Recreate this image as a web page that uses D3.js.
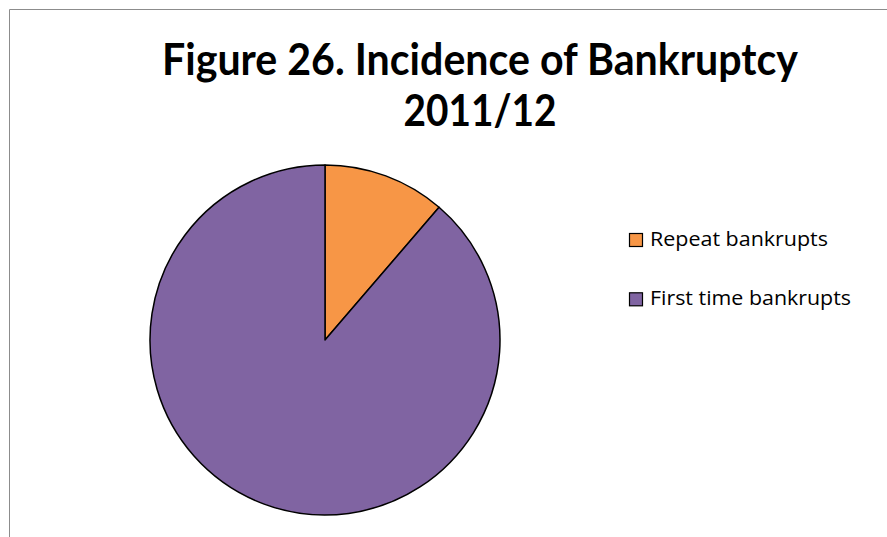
<!DOCTYPE html>
<html>
<head>
<meta charset="utf-8">
<script src="https://cdn.jsdelivr.net/npm/d3@7"></script>
<style>
  html, body { margin: 0; padding: 0; background: #fff; }
  svg { display: block; }
</style>
</head>
<body>
<svg id="chart" width="887" height="537"></svg>
<script>
// Share of bankrupts, 2011/12 (percent)
const categories = ["Repeat bankrupts", "First time bankrupts"];
const shares = [11.3, 88.7];
const colors = ["#F79646", "#8064A2"];
const titleLines = ["Figure 26. Incidence of Bankruptcy", "2011/12"];

const svg = d3.select("#chart");

// Chart area frame (open at the bottom)
svg.append("path")
  .attr("d", "M9.5,545 L9.5,9.5 L890,9.5")
  .attr("fill", "none")
  .attr("stroke", "#8c8c8c")
  .attr("stroke-width", 1);

// Title: two centred lines, set in a slightly condensed bold face
const titleWidths = [636, 153];
svg.append("g")
  .selectAll("text")
  .data(titleLines)
  .join("text")
  .attr("x", 480)
  .attr("y", (d, i) => 75 + i * 51)
  .attr("text-anchor", "middle")
  .attr("font-family", "Lato, sans-serif")
  .attr("font-weight", "bold")
  .attr("font-size", 44)
  .attr("textLength", (d, i) => titleWidths[i])
  .attr("lengthAdjust", "spacingAndGlyphs")
  .attr("fill", "#000")
  .text(d => d);

// Pie
const cx = 325, cy = 340, radius = 175;
const pie = d3.pie().sort(null).value(d => d)(shares);
const arc = d3.arc().innerRadius(0).outerRadius(radius);

svg.append("g")
  .attr("transform", `translate(${cx},${cy})`)
  .selectAll("path")
  .data(pie)
  .join("path")
  .attr("d", arc)
  .attr("fill", (d, i) => colors[i])
  .attr("stroke", "#000")
  .attr("stroke-width", 1.5)
  .attr("stroke-linejoin", "round");

// Legend
const legendWidths = [178, 201];
const legend = svg.append("g").attr("transform", "translate(629,233)");
const item = legend.selectAll("g")
  .data(categories)
  .join("g")
  .attr("transform", (d, i) => `translate(0,${i * 59.3})`);
item.append("rect")
  .attr("x", 0.5).attr("y", 0.5)
  .attr("width", 13).attr("height", 13)
  .attr("fill", (d, i) => colors[i])
  .attr("stroke", "#000")
  .attr("stroke-width", 1.2);
item.append("text")
  .attr("x", 21)
  .attr("y", 13)
  .attr("font-family", "'Open Sans', sans-serif")
  .attr("font-size", 19.5)
  .attr("textLength", (d, i) => legendWidths[i])
  .attr("lengthAdjust", "spacingAndGlyphs")
  .attr("fill", "#000")
  .text(d => d);
</script>
</body>
</html>
